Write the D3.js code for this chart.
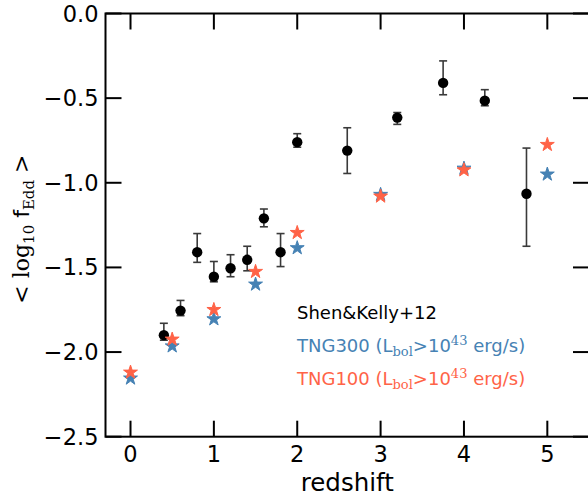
<!DOCTYPE html>
<html>
<head>
<meta charset="utf-8">
<script src="https://cdn.jsdelivr.net/npm/d3@7"></script>
<style>
  body { margin: 0; background: #fff; }
  text { font-family: "DejaVu Sans", sans-serif; }
</style>
</head>
<body>
<div id="chart"></div>
<script>
// Shen & Kelly 2012 binned means
const shenZ = [0.4, 0.6, 0.8, 1.0, 1.2, 1.4, 1.6, 1.8, 2.0, 2.6, 3.2, 3.75, 4.25, 4.75];
const shenVal = [-1.90, -1.755, -1.41, -1.555, -1.505, -1.455, -1.21, -1.41, -0.76, -0.81, -0.615, -0.41, -0.515, -1.065];
const shenErrHi = [0.07, 0.06, 0.11, 0.09, 0.08, 0.08, 0.055, 0.11, 0.05, 0.135, 0.03, 0.13, 0.065, 0.27];
const shenErrLo = [0.03, 0.03, 0.06, 0.03, 0.05, 0.065, 0.05, 0.085, 0.03, 0.135, 0.04, 0.07, 0.03, 0.31];

// TNG simulations
const tngZ = [0, 0.5, 1, 1.5, 2, 3, 4, 5];
const tng300 = [-2.155, -1.965, -1.805, -1.60, -1.385, -1.07, -0.915, -0.95];
const tng100 = [-2.12, -1.925, -1.75, -1.525, -1.295, -1.08, -0.925, -0.775];

const xTicks = [0, 1, 2, 3, 4, 5];
const yTicks = [0, -0.5, -1.0, -1.5, -2.0, -2.5];

const width = 588;
const height = 499;
const blue = '#4682b4';
const red = '#ff6347';

const x = d3.scaleLinear().domain([-0.3, 5.5]).range([105.5, 589]);
const y = d3.scaleLinear().domain([-2.5, 0]).range([436.7, 13.5]);

const svg = d3.select('#chart')
  .append('svg')
  .attr('width', width)
  .attr('height', height);

// ticks on all four sides, pointing in
const tickLen = 16;
const axes = svg.append('g')
  .attr('stroke', '#000')
  .attr('stroke-width', 2);

axes.selectAll('.xb').data(xTicks).enter().append('line')
  .attr('x1', d => x(d)).attr('x2', d => x(d))
  .attr('y1', y(-2.5)).attr('y2', y(-2.5) - tickLen);
axes.selectAll('.xt').data(xTicks).enter().append('line')
  .attr('x1', d => x(d)).attr('x2', d => x(d))
  .attr('y1', y(0)).attr('y2', y(0) + tickLen);
axes.selectAll('.yl').data(yTicks).enter().append('line')
  .attr('x1', x(-0.3)).attr('x2', x(-0.3) + tickLen)
  .attr('y1', d => y(d)).attr('y2', d => y(d));
axes.selectAll('.yr').data(yTicks).enter().append('line')
  .attr('x1', x(5.5)).attr('x2', x(5.5) - tickLen)
  .attr('y1', d => y(d)).attr('y2', d => y(d));

axes.append('rect')
  .attr('x', x(-0.3))
  .attr('y', y(0))
  .attr('width', x(5.5) - x(-0.3))
  .attr('height', y(-2.5) - y(0))
  .attr('fill', 'none');

// tick labels
svg.selectAll('.xlab').data(xTicks).enter().append('text')
  .attr('x', d => x(d))
  .attr('y', y(-2.5) + 25.5)
  .attr('text-anchor', 'middle')
  .style('font-size', '22.5px')
  .text(d => d);

svg.selectAll('.ylab').data(yTicks).enter().append('text')
  .attr('x', 98.5)
  .attr('y', d => y(d) + 8)
  .attr('text-anchor', 'end')
  .style('font-size', '22.5px')
  .text(d => d3.format('.1f')(d).replace('-', '\u2212'));

// axis titles
svg.append('text')
  .attr('x', (x(-0.3) + x(5.5)) / 2)
  .attr('y', 491)
  .attr('text-anchor', 'middle')
  .style('font-size', '24.5px')
  .text('redshift');

const ylabel = svg.append('text')
  .attr('transform', `translate(29, ${(y(0) + y(-2.5)) / 2 + 4}) rotate(-90)`)
  .attr('text-anchor', 'middle')
  .style('font-family', '"DejaVu Serif", serif')
  .style('font-size', '22px');
ylabel.append('tspan').text('< log');
ylabel.append('tspan').attr('dy', 5).style('font-size', '15px').text('10');
ylabel.append('tspan').attr('dy', -5).style('font-family', '"DejaVu Sans", sans-serif').text(' f');
ylabel.append('tspan').attr('dy', 5).style('font-size', '15px').text('Edd');
ylabel.append('tspan').attr('dy', -5).text(' >');

// error bars
const shen = shenZ.map((z, i) => ({z, v: shenVal[i], hi: shenErrHi[i], lo: shenErrLo[i]}));
const eb = svg.append('g')
  .attr('stroke', '#3a3a3a')
  .attr('stroke-width', 1.6);
eb.selectAll('.bar').data(shen).enter().append('line')
  .attr('x1', d => x(d.z)).attr('x2', d => x(d.z))
  .attr('y1', d => y(d.v + d.hi)).attr('y2', d => y(d.v - d.lo));
eb.selectAll('.capt').data(shen).enter().append('line')
  .attr('x1', d => x(d.z) - 4).attr('x2', d => x(d.z) + 4)
  .attr('y1', d => y(d.v + d.hi)).attr('y2', d => y(d.v + d.hi));
eb.selectAll('.capb').data(shen).enter().append('line')
  .attr('x1', d => x(d.z) - 4).attr('x2', d => x(d.z) + 4)
  .attr('y1', d => y(d.v - d.lo)).attr('y2', d => y(d.v - d.lo));

svg.append('g').selectAll('circle').data(shen).enter().append('circle')
  .attr('cx', d => x(d.z))
  .attr('cy', d => y(d.v))
  .attr('r', 5.2)
  .attr('fill', '#000');

// stars
const star = d3.symbol().type(d3.symbolStar).size(60);
svg.append('g').selectAll('path').data(tngZ).enter().append('path')
  .attr('d', star)
  .attr('transform', (d, i) => `translate(${x(d)}, ${y(tng300[i])})`)
  .attr('fill', blue)
  .attr('stroke', blue)
  .attr('stroke-width', 1);
svg.append('g').selectAll('path').data(tngZ).enter().append('path')
  .attr('d', star)
  .attr('transform', (d, i) => `translate(${x(d)}, ${y(tng100[i])})`)
  .attr('fill', red)
  .attr('stroke', red)
  .attr('stroke-width', 1);

// legend (text only)
const legend = svg.append('g').style('font-size', '18px');
legend.append('text').attr('x', 297).attr('y', 318.5).attr('fill', '#000').text('Shen&Kelly+12');

function tngLabel(name, color, yy) {
  const t = legend.append('text').attr('x', 297).attr('y', yy).attr('fill', color);
  t.append('tspan').text(name + ' (L');
  t.append('tspan').attr('dy', 4).style('font-family', '"DejaVu Serif", serif').style('font-size', '13px').text('bol');
  t.append('tspan').attr('dy', -4).text('>10');
  t.append('tspan').attr('dy', -7).style('font-family', '"DejaVu Serif", serif').style('font-size', '13px').text('43');
  t.append('tspan').attr('dy', 7).text(' erg/s)');
}
tngLabel('TNG300', blue, 351.7);
tngLabel('TNG100', red, 385);
</script>
</body>
</html>
